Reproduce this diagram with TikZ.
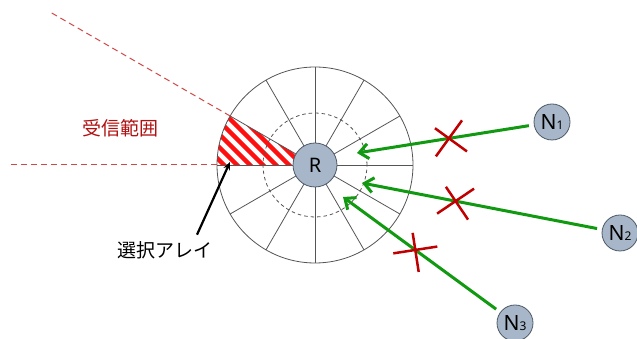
\documentclass[tikz,border=0pt]{standalone}
\usepackage{fontspec}
\setmainfont{Noto Sans}
\newfontfamily\jpfont{Noto Sans CJK JP}
\usetikzlibrary{arrows.meta,shapes.misc,calc,positioning}
\definecolor{ringgray}{HTML}{555555}
\definecolor{nodefill}{HTML}{A7B6C8}
\definecolor{nodeline}{HTML}{4D5966}
\definecolor{sigreen}{HTML}{119911}
\definecolor{crossred}{HTML}{C00000}
\definecolor{rangered}{HTML}{D04848}
\definecolor{labelred}{HTML}{B01010}
\definecolor{hatchred}{HTML}{FF1010}

\begin{document}
\begin{tikzpicture}[x=1pt, y=1pt,
  station/.style={
    circle, draw=nodeline, fill=nodefill, line width=0.8pt,
    minimum size=36pt, inner sep=0pt,
    font=\fontsize{21}{21}\selectfont
  },
  recv/.style={station, minimum size=44pt, font=\fontsize{20}{20}\selectfont},
  sig/.style={-{Straight Barb[length=9pt,width=15pt]}, line width=3pt, sigreen, shorten <=5pt},
  nope/.style={cross out, draw=crossred, line width=2.5pt, minimum size=29pt, inner sep=0pt, sloped},
  spoke/.style={ringgray, line width=0.8pt},
  rangeline/.style={rangered, dash pattern=on 6pt off 4pt, line width=1pt},
  stripe/.style={hatchred, line width=4.5pt},
  pointer/.style={-{Stealth[length=8pt,width=7pt]}, line width=2.2pt, black},
  jlabel/.style={font=\jpfont\fontsize{19}{19}\selectfont}
]
\useasboundingbox (0,0) rectangle (637,339);
\coordinate (c) at (315,174);

% hatched array
\begin{scope}
  \clip (c) -- ($(c)+(150:98)$) arc[start angle=150, end angle=180, radius=98] -- cycle;
  \foreach \k in {-12,...,12}
    \draw[stripe] ($(c)+(\k*13-100,100)$) -- ++(200,-200);
\end{scope}

% ring with spokes
\foreach \a in {0,30,...,330}
  \draw[spoke] (c) -- ($(c)+(\a:98)$);
\draw[spoke] (c) circle[radius=98];
\draw[ringgray, line width=0.8pt, dash pattern=on 3.5pt off 3pt] (c) circle[radius=52];

% reception range
\draw[rangeline] ($(c)+(180:98)$) -- ($(c)+(180:307)$);
\draw[rangeline] ($(c)+(150:98)$) -- ($(c)+(150:304)$);

\node[recv] (R) at (c) {R};
\node[station] (N1) at (552,217) {N{\fontsize{12}{12}\selectfont 1}};
\node[station] (N2) at (620,106) {N{\fontsize{12}{12}\selectfont 2}};
\node[station] (N3) at (515,16)  {N{\fontsize{12}{12}\selectfont 3}};

\node[jlabel, text=labelred] (range) at (120,211) {受信範囲};
\node[jlabel] (sel) at (165,89) {選択アレイ};

\coordinate (t1) at ($(R)+(42,12)$);
\coordinate (t2) at ($(R)+(47,-18)$);
\coordinate (t3) at ($(R)+(28,-32)$);
\coordinate (aim) at ($(R)+(-85,3)$);

\draw[sig] (N1) -- node[nope, pos=0.48] (x1) {} (t1);
\draw[sig] (N2) -- node[nope, pos=0.61] (x2) {} (t2);
\draw[sig] (N3) -- node[nope, pos=0.54] (x3) {} (t3);

\draw[pointer] ([xshift=32pt,yshift=3pt]sel.north) -- (aim);
\end{tikzpicture}
\end{document}
